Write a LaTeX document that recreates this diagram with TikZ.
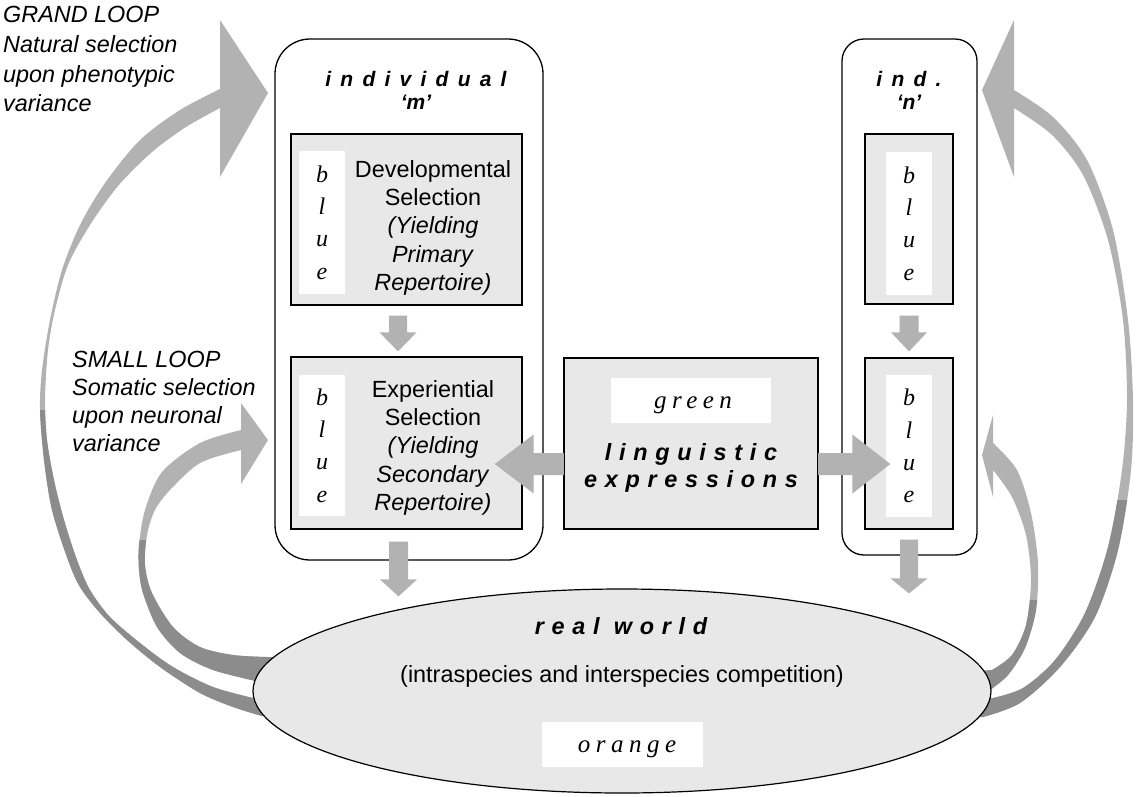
\documentclass[tikz,border=0pt]{standalone}
\usepackage{fontspec}
\newfontfamily\arial{Liberation Sans}
\newfontfamily\serifsp{Liberation Serif}[LetterSpace=22]
\newfontfamily\seriflet{Liberation Serif}
\usetikzlibrary{calc,shapes.geometric}
\definecolor{boxfill}{HTML}{E8E8E8}
\definecolor{arrlight}{HTML}{B2B2B2}
\definecolor{arrdark}{HTML}{8C8C8C}
% block arrows: #1 start, #2 tip, #3 shaft half width, #4 head half width, #5 head length
\newcommand\blockdown[5]{\fill[arrlight] ($(#1)+(-#3,0)$) -- ($(#1)+(#3,0)$) -- ($(#2)+(#3,-#5)$) -- ($(#2)+(#4,-#5)$) -- (#2) -- ($(#2)+(-#4,-#5)$) -- ($(#2)+(-#3,-#5)$) -- cycle;}
\newcommand\blockleft[5]{\fill[arrlight] ($(#1)+(0,-#3)$) -- ($(#2)+(#5,-#3)$) -- ($(#2)+(#5,-#4)$) -- (#2) -- ($(#2)+(#5,#4)$) -- ($(#2)+(#5,#3)$) -- ($(#1)+(0,#3)$) -- cycle;}
\newcommand\blockright[5]{\fill[arrlight] ($(#1)+(0,-#3)$) -- ($(#2)+(-#5,-#3)$) -- ($(#2)+(-#5,-#4)$) -- (#2) -- ($(#2)+(-#5,#4)$) -- ($(#2)+(-#5,#3)$) -- ($(#1)+(0,#3)$) -- cycle;}
\newcommand\tight[1]{{\addfontfeature{LetterSpace=0}#1}}
% curved loop arrows
\def\GLpath{(285,698) -- plot[smooth] coordinates {(253,698) (213,687) (173,667) (140,643) (110,617) (90,590) (77,560) (64,520) (54,480) (47,440) (45,400) (48,350) (55,310) (68,265) (90,225) (118,186) (152,152) (186,127) (220,108)} -- (220,177) -- (268,93) -- (220,20) -- plot[smooth] coordinates {(220,89) (180,110) (140,140) (105,183) (80,225) (62,270) (50,320) (42,370) (40,410) (44,460) (52,510) (68,560) (80,587) (100,613) (127,640) (160,667) (200,693) (233,707) (262,716)} -- (285,717) -- cycle}
\def\SLpath{(285,657) -- plot[smooth] coordinates {(267,657) (233,655) (200,647) (173,627) (152,593) (145,565) (147,535) (155,510) (170,490) (200,463) (241,450)} -- (241,484) -- (268,440) -- (241,403) -- plot[smooth] coordinates {(241,430) (200,443) (162,472) (145,510) (139,545) (139,570) (143,593) (157,627) (180,653) (213,670) (260,682)} -- (285,683) -- cycle}
\def\GRpath{(960,698) -- plot[smooth] coordinates {(993,698) (1023,688) (1055,660) (1085,613) (1108,547) (1122,470) (1127,400) (1123,320) (1108,240) (1083,175) (1052,135) (1014,108)} -- (1014,177) -- (982,90) -- (1014,20) -- plot[smooth] coordinates {(1014,90) (1053,117) (1087,160) (1113,230) (1128,320) (1133,400) (1131,470) (1118,550) (1095,617) (1060,667) (1020,703) (983,717)} -- (960,717) -- cycle}
\def\SRpath{(970,672) -- plot[smooth] coordinates {(992,670) (1012,655) (1026,625) (1031,580) (1026,535) (1012,497) (993,470)} -- (993,497) -- (982,455) -- (993,415) -- plot[smooth] coordinates {(993,443) (1017,470) (1031,513) (1038,563) (1036,610) (1025,648) (1008,675) (990,690)} -- (970,692) -- cycle}
\tikzset{
  bigbox/.style={draw=black, line width=1.3pt, fill=white, rounded corners=#1, inner sep=0pt},
  inbox/.style={draw=black, line width=1.3pt, fill=boxfill, inner sep=0pt},
  whitebox/.style={fill=white, draw=none, inner sep=0pt},
  sanstext/.style={font=\fontsize{23.4}{28.3}\selectfont\arial, align=center, inner sep=0pt},
  looplabel/.style={font=\fontsize{23.4}{#1}\selectfont\arial\itshape, align=left, inner sep=0pt},
  sptitle/.style={font=\fontsize{21}{23}\selectfont\arial\bfseries\itshape\addfontfeature{LetterSpace=44}, align=center, inner sep=0pt},
  spbig/.style={font=\fontsize{23.4}{27}\selectfont\arial\bfseries\itshape\addfontfeature{LetterSpace=33}, align=center, inner sep=0pt},
  bluetxt/.style={font=\fontsize{24}{32.3}\selectfont\seriflet\itshape, align=center},
  spit/.style={font=\fontsize{25}{27}\selectfont\serifsp\itshape, inner sep=0pt},
}
\begin{document}
\begin{tikzpicture}[x=1pt,y=-1pt]
\useasboundingbox (0,0) rectangle (1136,796);

% curved loop arrows (light, with dark lower part)
\fill[arrlight] \GLpath;
\fill[arrlight] \SLpath;
\fill[arrlight] \GRpath;
\fill[arrlight] \SRpath;
\begin{scope}\clip (0,410) rectangle (600,796); \fill[arrdark] \GLpath; \end{scope}
\begin{scope}\clip (0,540) rectangle (600,796); \fill[arrdark] \SLpath; \end{scope}
\begin{scope}\clip (600,500) rectangle (1136,796); \fill[arrdark] \GRpath; \end{scope}
\begin{scope}\clip (600,600) rectangle (1136,796); \fill[arrdark] \SRpath; \end{scope}

% real world
\node[ellipse, draw=black, line width=1.2pt, fill=boxfill, minimum width=738pt, minimum height=204pt, inner sep=0pt] (world) at (622,691) {};
\node[spbig, anchor=base] (worldtitle) at (621,634) {real world};
\node[sanstext, anchor=base] (worldsub) at (622,682) {(intraspecies and interspecies competition)};
\node[whitebox, minimum width=161pt, minimum height=45pt] (orangebox) at (622.5,744.5) {};
\node[spit, anchor=base] (orangetxt) at (627,752) {orange};

% individual m
\node[bigbox=35pt, minimum width=268pt, minimum height=521pt] (indm) at (409,299.5) {};
\node[sptitle, anchor=north] (indmtitle) at (416,71.5) {individual\\\tight{‘m’}};
\node[inbox, minimum width=231pt, minimum height=171pt] (dev) at (406.5,219.5) {};
\node[whitebox, bluetxt, minimum width=46pt, minimum height=143pt] (devblue) at (322,222.5) {b\\l\\u\\e};
\node[sanstext, anchor=north] (devtext) at (433,160) {Developmental\\Selection\\\textit{(Yielding}\\\textit{Primary}\\\textit{Repertoire)}};
\node[inbox, minimum width=231pt, minimum height=172pt] (exp) at (406.5,443) {};
\node[whitebox, bluetxt, minimum width=46pt, minimum height=141pt] (expblue) at (322,445.5) {b\\l\\u\\e};
\node[sanstext, anchor=north] (exptext) at (433,380) {Experiential\\Selection\\\textit{(Yielding}\\\textit{Secondary}\\\textit{Repertoire)}};

% individual n
\node[bigbox=22pt, minimum width=135pt, minimum height=516pt] (indn) at (909.5,297) {};
\node[sptitle, anchor=north] (indntitle) at (909,71.5) {ind.\\\tight{‘n’}};
\node[inbox, minimum width=88pt, minimum height=170pt] (ndev) at (909,219) {};
\node[whitebox, bluetxt, minimum width=46pt, minimum height=143pt] (ndevblue) at (909,223.5) {b\\l\\u\\e};
\node[inbox, minimum width=88pt, minimum height=171pt] (nexp) at (909,443.5) {};
\node[whitebox, bluetxt, minimum width=46pt, minimum height=142pt] (nexpblue) at (909,446) {b\\l\\u\\e};

% linguistic expressions
\node[inbox, minimum width=254pt, minimum height=171pt] (ling) at (691,443.5) {};
\node[whitebox, minimum width=160pt, minimum height=45pt] (greenbox) at (691,400.5) {};
\node[spit, anchor=base] (greentxt) at (693,408) {green};
\node[spbig, anchor=north] (lingtext) at (691,443) {linguistic\\expressions};

% loop labels
\node[looplabel=29.7, anchor=north west] (grand) at (3,6.3) {GRAND LOOP\\Natural selection\\upon phenotypic\\variance};
\node[looplabel=27.8, anchor=north west] (small) at (72,351.2) {SMALL LOOP\\Somatic selection\\upon neuronal\\variance};

% straight block arrows
\coordinate (a1s) at ($(dev.south)+(-8.5,10)$);
\coordinate (a1t) at ($(exp.north)+(-8.5,-5)$);
\blockdown{a1s}{a1t}{9}{18.5}{19}
\coordinate (a2s) at ($(indm.south)+(-10.5,-19)$);
\coordinate (a2t) at ($(world.north)+(-223.5,8)$);
\blockdown{a2s}{a2t}{9.5}{18.5}{17}
\coordinate (a3s) at ($(ndev.south)+(0,11)$);
\coordinate (a3t) at ($(nexp.north)+(0,-6)$);
\blockdown{a3s}{a3t}{9.5}{18}{19}
\coordinate (a4s) at ($(indn.south)+(-0.5,-16)$);
\coordinate (a4t) at ($(world.north)+(287,5)$);
\blockdown{a4s}{a4t}{9}{18.5}{15}
\coordinate (ls) at ($(ling.west)+(0.5,20.5)$);
\coordinate (lt) at ($(exp.east)+(-28,21)$);
\blockleft{ls}{lt}{11}{29.5}{39}
\coordinate (rs) at ($(ling.east)+(-0.5,20.5)$);
\coordinate (rt) at ($(nexp.west)+(26,20.5)$);
\blockright{rs}{rt}{11}{29.5}{38}
\end{tikzpicture}
\end{document}
